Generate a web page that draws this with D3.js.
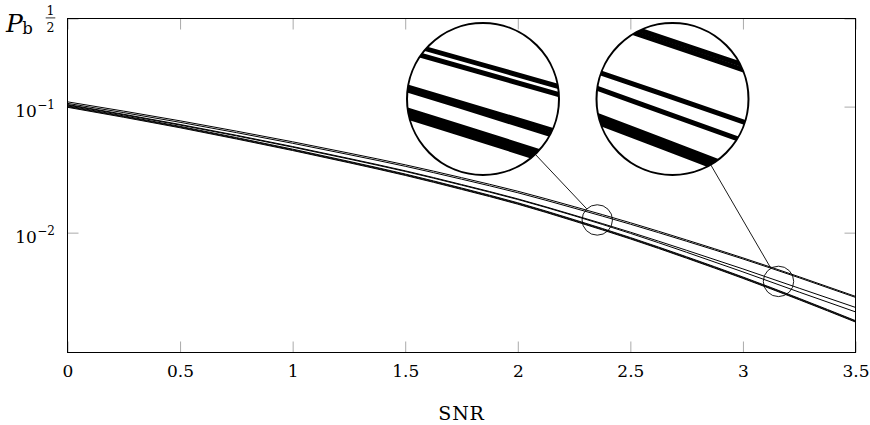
<!DOCTYPE html>
<html>
<head>
<meta charset="utf-8">
<script src="https://cdn.jsdelivr.net/npm/d3@7"></script>
<style>
  body { margin: 0; background: #fff; }
  svg { display: block; }
  text { font-family: "DejaVu Serif", "Liberation Serif", serif; fill: #000; }
</style>
</head>
<body>
<svg id="chart" width="870" height="425"></svg>
<script>
// SNR sample points shared by all curves
const snr = [0, 0.25, 0.5, 0.75, 1, 1.25, 1.5, 1.75, 2, 2.25, 2.5, 2.75, 3, 3.25, 3.5];

// Bit error probability curves
const pbA1 = [0.1091, 0.09205, 0.07712, 0.06391, 0.05257, 0.04277, 0.03455, 0.02731, 0.02131, 0.01609, 0.01199, 0.008747, 0.006309, 0.004465, 0.003122];
const pbA2 = [0.1061, 0.08957, 0.07504, 0.06218, 0.05116, 0.04162, 0.03362, 0.02657, 0.02073, 0.01565, 0.01167, 0.008542, 0.006184, 0.004384, 0.003066];
const pbB1 = [0.1039, 0.08691, 0.07215, 0.05925, 0.04821, 0.03879, 0.03094, 0.02410, 0.01853, 0.01377, 0.01009, 0.007242, 0.005157, 0.003623, 0.002552];
const pbB2 = [0.1028, 0.08596, 0.07137, 0.05861, 0.04769, 0.03837, 0.03060, 0.02384, 0.01833, 0.01362, 0.009875, 0.006984, 0.004883, 0.003375, 0.002352];
const pbC1 = [0.1013, 0.08441, 0.06969, 0.05681, 0.04597, 0.03679, 0.02918, 0.02261, 0.01726, 0.01268, 0.009146, 0.006432, 0.004448, 0.003010, 0.002004];
const pbC2 = [0.1000, 0.08334, 0.06881, 0.05609, 0.04539, 0.03633, 0.02881, 0.02233, 0.01704, 0.01252, 0.009031, 0.006351, 0.004392, 0.002972, 0.001979];
const pbC3 = [0.09875, 0.08228, 0.06793, 0.05538, 0.04482, 0.03587, 0.02845, 0.02204, 0.01683, 0.01236, 0.008916, 0.006270, 0.004336, 0.002935, 0.001954];

// Axis ticks and labels
const xTicks = [0, 0.5, 1, 1.5, 2, 2.5, 3, 3.5];
const xTickLabels = ["0", "0.5", "1", "1.5", "2", "2.5", "3", "3.5"];
const yTicks = [0.5, 0.1, 0.01];
const yTickLabels = ["1/2", "10^\u22121", "10^\u22122"];
const xLabel = "SNR";

// Points (SNR, Pb) that get a magnified view
const spyTargets = [[2.353, 0.01261], [3.158, 0.004105]];

// ---- layout ----
const plotL = 67.5, plotR = 855.5, plotT = 18.5, plotB = 352.5;
const labelSize = 17;
const svg = d3.select("#chart");

const x = d3.scaleLinear().domain([0, 3.5]).range([plotL, plotR]);
const y = d3.scaleLog().domain([1.12e-3, 0.5]).range([plotB, plotT]);

const series = [pbA1, pbA2, pbB1, pbB2, pbC1, pbC2, pbC3];
const line = d3.line()
  .x((d, i) => x(snr[i]))
  .y(d => y(d))
  .curve(d3.curveMonotoneX);

const tickColor = "#aaaaaa";
const tickLen = 11;

// ticks (inward, gray) on all four sides
const gxB = svg.append("g").attr("transform", `translate(0,${plotB})`)
  .call(d3.axisBottom(x).tickValues(xTicks).tickFormat((d, i) => xTickLabels[i])
    .tickSizeInner(-tickLen).tickSizeOuter(0));
const gxT = svg.append("g").attr("transform", `translate(0,${plotT})`)
  .call(d3.axisTop(x).tickValues(xTicks).tickFormat("")
    .tickSizeInner(-tickLen).tickSizeOuter(0));
const gyL = svg.append("g").attr("transform", `translate(${plotL},0)`)
  .call(d3.axisLeft(y).tickValues(yTicks).tickFormat("")
    .tickSizeInner(-tickLen).tickSizeOuter(0));
const gyR = svg.append("g").attr("transform", `translate(${plotR},0)`)
  .call(d3.axisRight(y).tickValues(yTicks).tickFormat("")
    .tickSizeInner(-tickLen).tickSizeOuter(0));

[gxB, gxT, gyL, gyR].forEach(g => {
  g.select(".domain").remove();
  g.selectAll(".tick line").attr("stroke", tickColor).attr("stroke-width", 1);
  g.attr("font-family", null).attr("font-size", labelSize);
});
gxT.selectAll("text").remove();
gyR.selectAll("text").remove();

// x tick labels
gxB.selectAll(".tick text").attr("y", 24.5).attr("dy", null).attr("font-size", labelSize);

// y tick labels: fraction or power of ten
gyL.selectAll(".tick").each(function(d, i) {
  const g = d3.select(this);
  g.select("text").remove();
  const lab = yTickLabels[i];
  if (lab.includes("/")) {
    const [num, den] = lab.split("/");
    const cx = -17;
    g.append("text").attr("x", cx).attr("y", -3.6).attr("text-anchor", "middle")
      .attr("font-size", 12.5).text(num);
    g.append("line").attr("x1", cx - 4.8).attr("x2", cx + 4.8)
      .attr("y1", -1.1).attr("y2", -1.1).attr("stroke", "#000").attr("stroke-width", 0.8);
    g.append("text").attr("x", cx).attr("y", 13.4).attr("text-anchor", "middle")
      .attr("font-size", 12.5).text(den);
  } else {
    const [base, exp] = lab.split("^");
    const t = g.append("text").attr("x", -12.5).attr("y", 10).attr("text-anchor", "end")
      .attr("font-size", labelSize);
    t.append("tspan").text(base);
    t.append("tspan").attr("font-size", 12).attr("dx", 0.5).attr("dy", -8.2).text(exp);
  }
});

// curves
const clipId = "plotArea";
svg.append("defs").append("clipPath").attr("id", clipId)
  .append("rect").attr("x", plotL).attr("y", plotT)
  .attr("width", plotR - plotL).attr("height", plotB - plotT);

const curvesG = svg.append("g").attr("clip-path", `url(#${clipId})`);
curvesG.selectAll("path").data(series).join("path")
  .attr("d", line)
  .attr("fill", "none")
  .attr("stroke", "#000")
  .attr("stroke-width", 1);

// frame
svg.append("rect").attr("x", plotL).attr("y", plotT)
  .attr("width", plotR - plotL).attr("height", plotB - plotT)
  .attr("fill", "none").attr("stroke", "#000").attr("stroke-width", 1);

// axis titles
svg.append("text").attr("x", (plotL + plotR) / 2).attr("y", 420)
  .attr("text-anchor", "middle").attr("font-size", 19)
  .attr("letter-spacing", 0.8).text(xLabel);

const yl = svg.append("text").attr("x", 6).attr("y", 31.5);
yl.append("tspan").attr("font-style", "italic").attr("font-size", 25).text("P");
yl.append("tspan").attr("font-size", 16.5).attr("dx", -0.5).attr("dy", 2.5).text("b");

// magnified views
const mag = 5;
const spyR = 15.2;
const insetR = spyR * mag;
const insetCenters = [[483, 99], [672.5, 99]];
const defs = svg.select("defs");

spyTargets.forEach((p, k) => {
  const sx = x(p[0]), sy = y(p[1]);
  const [cx, cy] = insetCenters[k];

  // outline around the magnified spot
  svg.append("circle").attr("cx", sx).attr("cy", sy).attr("r", spyR)
    .attr("fill", "none").attr("stroke", "#000").attr("stroke-width", 0.9);

  // connector between the spot and its enlargement
  const dx = sx - cx, dy = sy - cy, dist = Math.hypot(dx, dy);
  const ux = dx / dist, uy = dy / dist;
  svg.append("line")
    .attr("x1", cx + ux * insetR).attr("y1", cy + uy * insetR)
    .attr("x2", sx - ux * spyR).attr("y2", sy - uy * spyR)
    .attr("stroke", "#000").attr("stroke-width", 0.9);

  const id = "spyClip" + k;
  defs.append("clipPath").attr("id", id)
    .append("circle").attr("cx", cx).attr("cy", cy).attr("r", insetR);

  const g = svg.append("g").attr("clip-path", `url(#${id})`);
  g.append("circle").attr("cx", cx).attr("cy", cy).attr("r", insetR).attr("fill", "#fff");
  g.append("g")
    .attr("transform", `translate(${cx},${cy}) scale(${mag}) translate(${-sx},${-sy})`)
    .selectAll("path").data(series).join("path")
    .attr("d", line)
    .attr("fill", "none")
    .attr("stroke", "#000")
    .attr("stroke-width", 1);

  svg.append("circle").attr("cx", cx).attr("cy", cy).attr("r", insetR)
    .attr("fill", "none").attr("stroke", "#000").attr("stroke-width", 2);
});
</script>
</body>
</html>
